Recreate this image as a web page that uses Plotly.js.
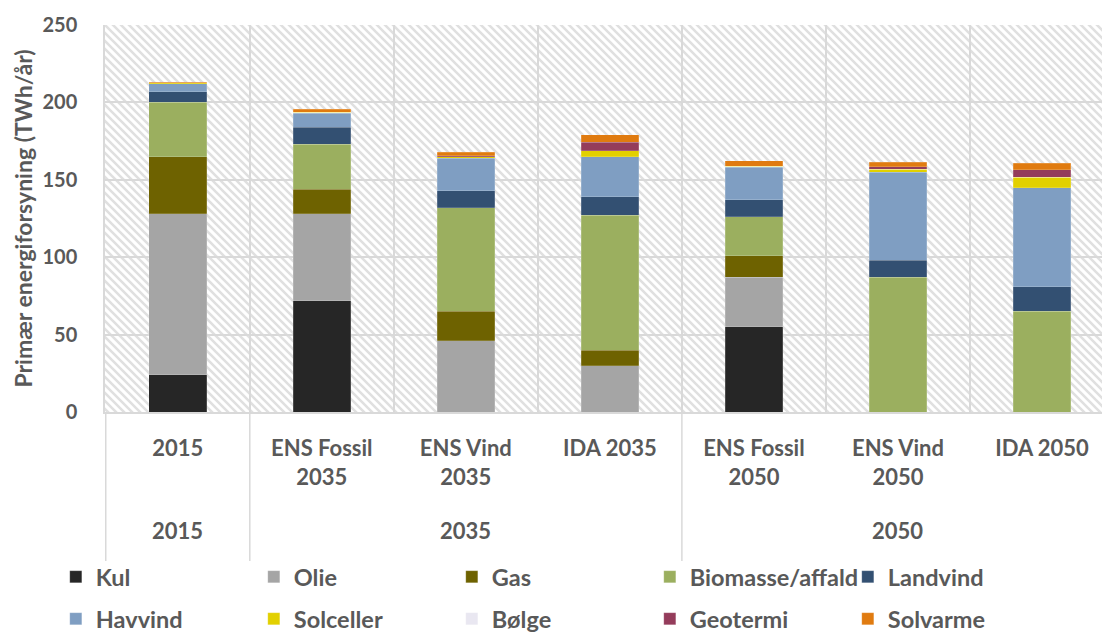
<!DOCTYPE html>
<html>
<head>
<meta charset="utf-8">
<script src="https://cdn.plot.ly/plotly-3.0.1.min.js"></script>
<style>
html,body{margin:0;padding:0;overflow:hidden;background:#fff;width:1102px;height:637px;}
#chart{width:1116px;height:637px;}
</style>
</head>
<body>
<div id="chart"></div>
<script>
// ---- data ----
const parents = ["2015", "2035", "2035", "2035", "2050", "2050", "2050"];
const scenarios = ["2015", "ENS Fossil 2035", "ENS Vind 2035", "IDA 2035", "ENS Fossil 2050", "ENS Vind 2050", "IDA 2050"];
const scenarioLabels = ["2015", "ENS Fossil<br>2035", "ENS Vind<br>2035", "IDA 2035", "ENS Fossil<br>2050", "ENS Vind<br>2050", "IDA 2050"];

const kul       = [24, 72, 0, 0, 55, 0, 0];
const olie      = [104, 56, 46, 30, 32, 0, 0];
const gas       = [37, 16, 19, 10, 14, 0, 0];
const biomasse  = [35, 29, 67, 87, 25, 87, 65];
const landvind  = [7, 11, 11, 12, 11, 11, 16];
const havvind   = [5, 9, 21, 26, 21, 57, 64];
const solceller = [0.6, 0.7, 0.8, 3.9, 0.9, 1.8, 6.5];
const bolge     = [0, 0, 0, 0, 0, 0, 0];
const geotermi  = [0, 0, 0.8, 5.2, 0, 1.5, 4.9];
const solvarme  = [0.3, 2, 2.2, 5, 3.4, 3, 4.3];

const seriesNames = ["Kul", "Olie", "Gas", "Biomasse/affald", "Landvind",
                     "Havvind", "Solceller", "Bølge", "Geotermi", "Solvarme"];
const seriesValues = [kul, olie, gas, biomasse, landvind, havvind, solceller, bolge, geotermi, solvarme];
const seriesColors = ["#262626", "#a5a5a5", "#6e6200", "#9baf5f", "#335072",
                      "#7f9ec2", "#e2d000", "#e9e7f1", "#943c5b", "#e07b10"];

const textColor = "#595959";
const gridColor = "#d9d9d9";
const fontFam = "Lato, 'Open Sans', sans-serif";

const traces = seriesNames.map((name, i) => ({
  type: "bar",
  name: name,
  x: scenarios,
  y: seriesValues[i],
  marker: { color: seriesColors[i], line: { color: "rgba(255,255,255,0.35)", width: 0.5 } },
  legend: i < 5 ? "legend" : "legend2",
  hoverinfo: "name+y"
}));

// group (parent) labels and dividers derived from the parents array
const groups = [];
parents.forEach((p, i) => {
  const g = groups.length ? groups[groups.length - 1] : null;
  if (g && g.name === p) { g.end = i; } else { groups.push({ name: p, start: i, end: i }); }
});
const annotations = groups.map(g => ({
  x: (g.start + g.end) / 2, xref: "x", y: -0.305, yref: "paper",
  text: g.name, showarrow: false, xanchor: "center", yanchor: "middle",
  font: { family: fontFam, size: 22, color: textColor, weight: "bold" }
}));
const shapes = groups.map(g => ({
  type: "line", xref: "x", yref: "paper", x0: g.start - 0.5, x1: g.start - 0.5,
  y0: 0, y1: -0.385, line: { color: gridColor, width: 1.5 }
}));

// hatched background pattern for the plot area
const pw = 1009, ph = 387;
const svg = `<svg xmlns='http://www.w3.org/2000/svg' width='${pw}' height='${ph}' viewBox='0 0 ${pw} ${ph}'>` +
  `<defs><pattern id='p' width='8' height='8' patternUnits='userSpaceOnUse'>` +
  `<path d='M-2,6 L2,10 M0,0 L8,8 M6,-2 L10,2' stroke='#e0e0e0' stroke-width='2.6'/></pattern></defs>` +
  `<rect width='100%' height='100%' fill='white'/><rect width='100%' height='100%' fill='url(#p)'/></svg>`;
const bgSrc = "data:image/svg+xml;charset=utf-8," + encodeURIComponent(svg);

const legendCommon = {
  orientation: "h",
  xref: "container",
  yref: "container",
  xanchor: "left",
  yanchor: "middle",
  x: 0.05,
  entrywidth: 153,
  entrywidthmode: "pixels",
  font: { family: fontFam, size: 23.5, color: textColor, weight: "bold" },
  bgcolor: "rgba(0,0,0,0)",
  traceorder: "normal",
  itemclick: false
};

const layout = {
  width: 1116,
  height: 637,
  margin: { l: 105, r: 2, t: 25, b: 225 },
  paper_bgcolor: "#ffffff",
  plot_bgcolor: "rgba(0,0,0,0)",
  barmode: "stack",
  bargap: 0.6,
  font: { family: fontFam, color: textColor, weight: "bold" },
  images: [{
    source: bgSrc, xref: "paper", yref: "paper", x: 0, y: 1,
    sizex: 1, sizey: 1, sizing: "stretch", xanchor: "left", yanchor: "top", layer: "below"
  }],
  xaxis: {
    type: "category",
    tickmode: "array",
    tickvals: scenarios,
    ticktext: scenarioLabels,
    tickson: "boundaries",
    showgrid: true,
    gridcolor: gridColor,
    gridwidth: 1.5,
    showline: true,
    linecolor: gridColor,
    linewidth: 1.5,
    ticks: "",
    ticklabelstandoff: 16,
    automargin: false,
    tickfont: { family: fontFam, size: 22, color: textColor, weight: "bold" }
  },
  yaxis: {
    range: [0, 250],
    dtick: 50,
    showgrid: true,
    gridcolor: gridColor,
    gridwidth: 2,
    zeroline: false,
    showline: true,
    linecolor: gridColor,
    linewidth: 1.5,
    ticks: "",
    ticklabelstandoff: 22,
    automargin: false,
    tickfont: { family: fontFam, size: 20, color: textColor, weight: "bold" },
    title: { text: "Primær energiforsyning (TWh/år)", standoff: 3,
             font: { family: fontFam, size: 23, color: textColor, weight: "bold" } }
  },
  annotations: annotations,
  shapes: shapes,
  legend: Object.assign({}, legendCommon, { y: 1 - 577 / 637 }),
  legend2: Object.assign({}, legendCommon, { y: 1 - 619 / 637 }),
  showlegend: true
};

Plotly.newPlot("chart", traces, layout, { displayModeBar: false });
</script>
</body>
</html>
